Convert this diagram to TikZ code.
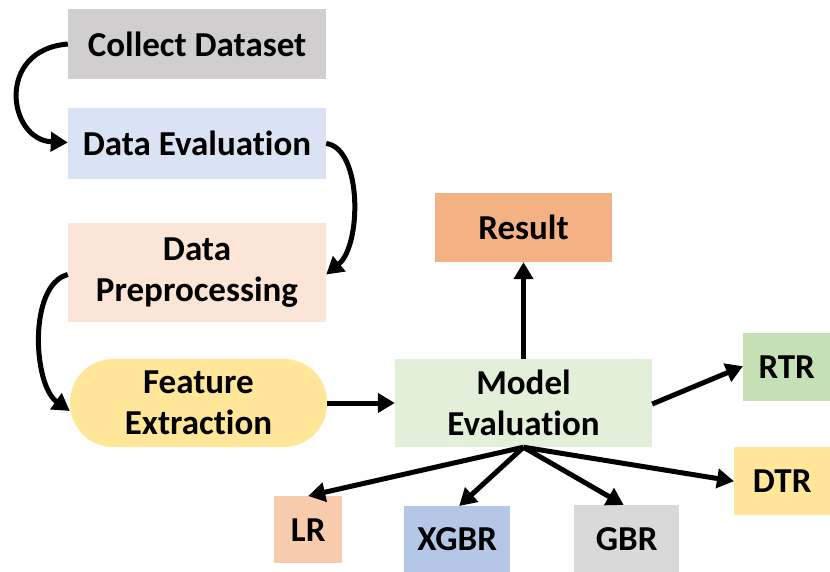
\documentclass[tikz,border=0pt]{standalone}
\usepackage{fontspec}
\setmainfont[Ligatures=NoCommon]{Carlito}
\usetikzlibrary{arrows.meta}
\definecolor{cGray}{HTML}{D0CECE}
\definecolor{cBlue}{HTML}{DAE3F3}
\definecolor{cPeach}{HTML}{FBE5D6}
\definecolor{cYellow}{HTML}{FFE699}
\definecolor{cGreenL}{HTML}{E2F0D9}
\definecolor{cOrange}{HTML}{F4B183}
\definecolor{cGreen}{HTML}{C5E0B4}
\definecolor{cSalmon}{HTML}{F8CBAD}
\definecolor{cSteel}{HTML}{B4C7E7}
\definecolor{cLGray}{HTML}{D9D9D9}
\begin{document}
\begin{tikzpicture}[x=1pt,y=-1pt,
  box/.style={inner sep=0pt, align=center, font=\fontsize{35}{41}\selectfont\bfseries},
  conn/.style={line width=5pt, -{Triangle[length=17pt,width=19pt]}}]
\useasboundingbox (0,0) rectangle (830,572);
\node[box, fill=cGray, minimum width=258pt, minimum height=70pt] (cd) at (197,44) {Collect Dataset};
\node[box, fill=cBlue, minimum width=258pt, minimum height=71pt] (de) at (197,143.5) {Data Evaluation};
\node[box, fill=cPeach, minimum width=258pt, minimum height=99pt] (dp) at (197,272.5) {Data\\Preprocessing};
\node[box, fill=cYellow, minimum width=257pt, minimum height=88pt, rounded corners=43pt] (fe) at (198.5,403) {Feature\\Extraction};
\node[box, fill=cGreenL, minimum width=257pt, minimum height=88pt] (me) at (523.5,403) {Model\\Evaluation};
\node[box, fill=cOrange, minimum width=177pt, minimum height=69pt] (res) at (523.5,227.5) {Result};
\node[box, fill=cGreen, minimum width=87pt, minimum height=68pt, anchor=north west] (rtr) at (743,333) {RTR};
\node[box, fill=cYellow, minimum width=96pt, minimum height=68pt, anchor=north west] (dtr) at (734,447) {DTR};
\node[box, fill=cSalmon, minimum width=68pt, minimum height=67pt, anchor=north west] (lr) at (274,496) {LR};
\node[box, fill=cSteel, minimum width=106pt, minimum height=66pt, anchor=north west] (xg) at (404,506) {XGBR};
\node[box, fill=cLGray, minimum width=105pt, minimum height=67pt, anchor=north west] (gb) at (574,505) {GBR};
\coordinate (mb) at (me.south);
\draw[conn] (cd.west) .. controls (-5,50) and (8,140) .. ([yshift=1pt]de.west);
\draw[conn] (de.east) .. controls (362,148) and (362,245) .. ([yshift=-2pt]dp.east);
\draw[conn] ([yshift=-2pt]dp.west) .. controls (28,285) and (33,385) .. ([yshift=-8pt]fe.west);
\draw[conn] (fe.east) -- (me.west);
\draw[conn] (me.north) -- (res.south);
\draw[conn] ([yshift=-1pt]me.east) -- ([yshift=1pt]rtr.west);
\draw[conn] (mb) -- (lr.north);
\draw[conn] (mb) -- ([xshift=2pt]xg.north);
\draw[conn] (mb) -- ([xshift=-3pt]gb.north);
\draw[conn] (mb) -- (dtr.west);
\end{tikzpicture}
\end{document}
